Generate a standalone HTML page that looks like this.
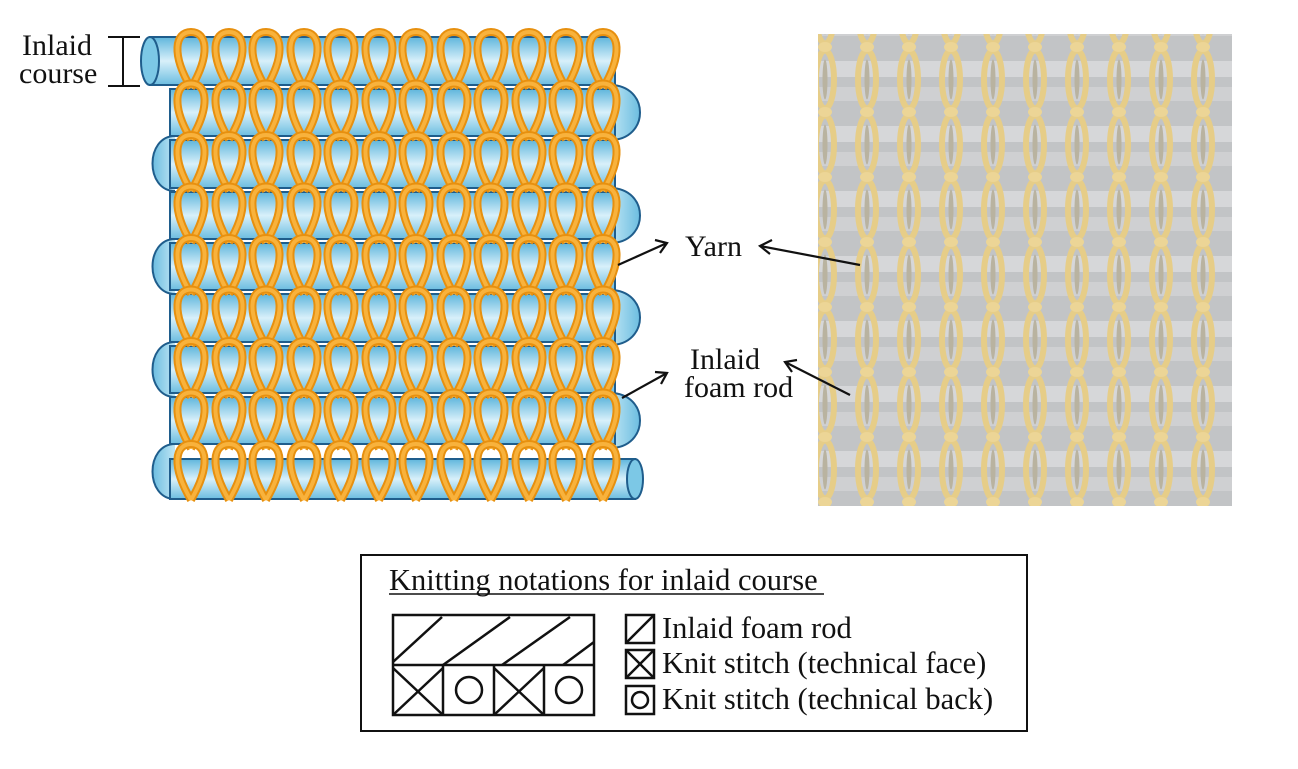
<!DOCTYPE html>
<html><head><meta charset="utf-8"><style>
body{margin:0;background:#fff;}
svg{display:block}
text{font-family:"Liberation Serif",serif;fill:#111}
</style></head><body>
<svg width="1298" height="769" viewBox="0 0 1298 769" xmlns="http://www.w3.org/2000/svg">
<defs>
<linearGradient id="rod" x1="0" y1="0" x2="0" y2="1">
<stop offset="0" stop-color="#5fb6dc"/><stop offset="0.5" stop-color="#d8f0fa"/><stop offset="1" stop-color="#6cbde0"/>
</linearGradient>
<linearGradient id="turnR" x1="0" y1="0" x2="1" y2="0">
<stop offset="0" stop-color="#bfe6f5"/><stop offset="1" stop-color="#6cbde0"/>
</linearGradient>
<linearGradient id="turnL" x1="1" y1="0" x2="0" y2="0">
<stop offset="0" stop-color="#bfe6f5"/><stop offset="1" stop-color="#6cbde0"/>
</linearGradient>
<g id="loop">
<path d="M0,56 C-20,22 -16,0 0,0 C16,0 20,22 0,56" fill="none" stroke="#e7900f" stroke-width="8"/>
<path d="M0,56 C-20,22 -16,0 0,0 C16,0 20,22 0,56" fill="none" stroke="#f8b23c" stroke-width="4"/>
</g>
<pattern id="photo" x="804" y="47" width="42" height="65" patternUnits="userSpaceOnUse">
<rect width="42" height="65" fill="#c2c4c6"/>
<rect x="0" y="14" width="42" height="16" fill="#d6d7d9"/>
<rect x="0" y="40" width="42" height="14" fill="#cfd0d2"/>
<ellipse cx="21" cy="32.5" rx="9" ry="29" fill="none" stroke="#e6cd88" stroke-width="6"/>
<ellipse cx="21" cy="32.5" rx="2.5" ry="20" fill="#b9b3a0"/>
<ellipse cx="21" cy="0" rx="7" ry="5" fill="#ecd596"/>
<ellipse cx="21" cy="65" rx="7" ry="5" fill="#ecd596"/>
</pattern>
</defs>

<g stroke="#1f5d8c" stroke-width="2">
<path d="M610,85 C650,85 650,140 610,140" fill="url(#turnR)"/>
<path d="M175,136 C145,136 145,191 175,191" fill="url(#turnL)"/>
<path d="M610,188 C650,188 650,243 610,243" fill="url(#turnR)"/>
<path d="M175,239 C145,239 145,294 175,294" fill="url(#turnL)"/>
<path d="M610,290 C650,290 650,345 610,345" fill="url(#turnR)"/>
<path d="M175,342 C145,342 145,397 175,397" fill="url(#turnL)"/>
<path d="M610,393 C650,393 650,448 610,448" fill="url(#turnR)"/>
<path d="M175,444 C145,444 145,499 175,499" fill="url(#turnL)"/>
</g>
<g stroke="#1f5d8c" stroke-width="2" fill="url(#rod)">
<rect x="150" y="37" width="465" height="48"/>
<ellipse cx="150" cy="61" rx="9" ry="24" fill="#7cc8e6"/>
<rect x="170" y="89" width="445" height="47"/>
<rect x="170" y="140" width="445" height="48"/>
<rect x="170" y="192" width="445" height="47"/>
<rect x="170" y="243" width="445" height="47"/>
<rect x="170" y="294" width="445" height="48"/>
<rect x="170" y="346" width="445" height="47"/>
<rect x="170" y="397" width="445" height="47"/>
<rect x="170" y="459" width="465" height="40"/>
<ellipse cx="635" cy="479" rx="8" ry="20" fill="#7cc8e6"/>
</g>

<g>
<g id="r0">
<use href="#loop" x="191" y="32"/><use href="#loop" x="229" y="32"/><use href="#loop" x="266" y="32"/><use href="#loop" x="304" y="32"/><use href="#loop" x="341" y="32"/><use href="#loop" x="379" y="32"/><use href="#loop" x="416" y="32"/><use href="#loop" x="454" y="32"/><use href="#loop" x="491" y="32"/><use href="#loop" x="529" y="32"/><use href="#loop" x="566" y="32"/><use href="#loop" x="603" y="32"/>
</g>
<use href="#r0" y="51.5"/><use href="#r0" y="103"/><use href="#r0" y="154.5"/><use href="#r0" y="206"/><use href="#r0" y="257.5"/><use href="#r0" y="309"/><use href="#r0" y="360.5"/><use href="#r0" y="412"/>
</g>
<rect x="160" y="514" width="470" height="20" fill="#fff"/>

<text x="22" y="55" font-size="30">Inlaid</text>
<text x="19" y="83" font-size="30">course</text>
<g stroke="#111" stroke-width="2">
<line x1="123" y1="37" x2="123" y2="86"/><line x1="108" y1="37" x2="140" y2="37"/><line x1="108" y1="86" x2="140" y2="86"/>
</g>

<rect x="818" y="34" width="414" height="472" fill="url(#photo)"/>

<text x="685" y="256" font-size="30">Yarn</text>
<text x="690" y="369" font-size="30">Inlaid</text>
<text x="684" y="397" font-size="30">foam rod</text>
<g stroke="#111" stroke-width="2.2" fill="none">
<line x1="618" y1="265" x2="667" y2="243"/><path d="M655,240 L667,243 L660,253"/>
<line x1="860" y1="265" x2="760" y2="246"/><path d="M772,240 L760,246 L770,254"/>
<line x1="622" y1="398" x2="667" y2="373"/><path d="M655,372 L667,373 L661,384"/>
<line x1="850" y1="395" x2="785" y2="362"/><path d="M797,360 L785,362 L792,372"/>
</g>

<rect x="361" y="555" width="666" height="176" fill="none" stroke="#111" stroke-width="2"/>
<text x="389" y="590" font-size="30.5">Knitting notations for inlaid course</text>
<line x1="389" y1="594" x2="824" y2="594" stroke="#111" stroke-width="1.5"/>
<g stroke="#111" stroke-width="2.5" fill="none">
<rect x="393" y="615" width="201" height="100"/>
<line x1="393" y1="665" x2="594" y2="665"/>
<line x1="443" y1="665" x2="443" y2="715"/><line x1="494" y1="665" x2="494" y2="715"/><line x1="544" y1="665" x2="544" y2="715"/>
<line x1="393" y1="668" x2="443" y2="715"/><line x1="393" y1="715" x2="443" y2="668"/>
<line x1="494" y1="668" x2="544" y2="715"/><line x1="494" y1="715" x2="544" y2="668"/>
<circle cx="469" cy="690" r="13"/><circle cx="569" cy="690" r="13"/>
<line x1="393" y1="662" x2="442" y2="617"/>
<line x1="443" y1="665" x2="510" y2="617"/>
<line x1="502" y1="665" x2="570" y2="617"/>
<line x1="563" y1="665" x2="594" y2="642"/>
<rect x="626" y="615" width="28" height="28"/><line x1="626" y1="643" x2="654" y2="615"/>
<rect x="626" y="650" width="28" height="28"/><line x1="626" y1="650" x2="654" y2="678"/><line x1="626" y1="678" x2="654" y2="650"/>
<rect x="626" y="686" width="28" height="28"/><circle cx="640" cy="700" r="8"/>
</g>
<text x="662" y="638" font-size="30.5">Inlaid foam rod</text>
<text x="662" y="673" font-size="30.5">Knit stitch (technical face)</text>
<text x="662" y="709" font-size="30.5">Knit stitch (technical back)</text>
</svg>
</body></html>
